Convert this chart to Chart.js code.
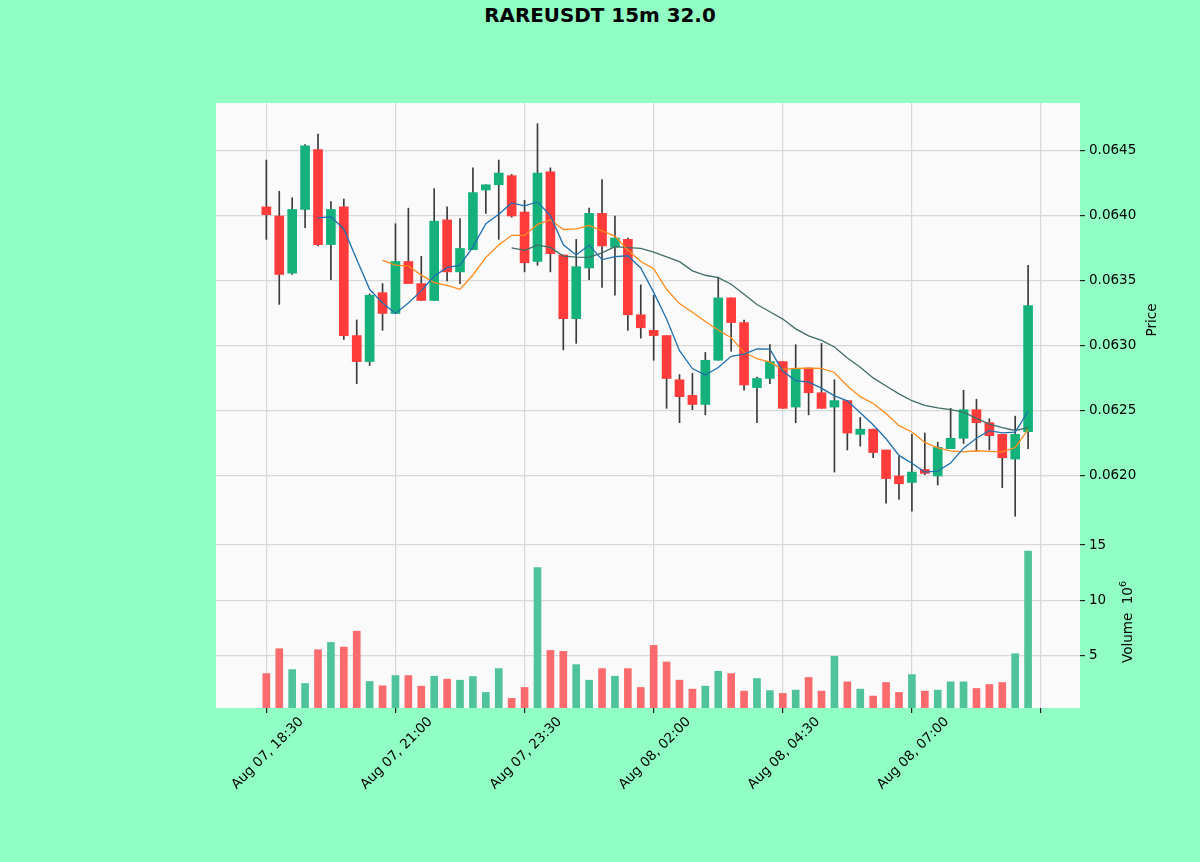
<!DOCTYPE html>
<html>
<head>
<meta charset="utf-8">
<title>RAREUSDT 15m</title>
<script src="https://cdn.jsdelivr.net/npm/chart.js@4.4.1/dist/chart.umd.min.js"></script>
<style>
    html, body { margin: 0; padding: 0; width: 1200px; height: 862px; overflow: hidden; background: #91ffc4; font-family: "DejaVu Sans", sans-serif; }
    canvas { position: absolute; left: 0; top: 0; }
    .title { position: absolute; left: 0; top: 6px; width: 1200px; text-align: center; font-weight: bold; font-size: 19.9px; line-height: 20px; color: #000; }
    .ylab { position: absolute; width: 120px; height: 16px; line-height: 16px; text-align: center; font-size: 13.5px; color: #000; transform: rotate(-90deg); white-space: nowrap; }
    .ylab sup { font-size: 9.5px; }
</style>
</head>
<body>
<div class="title">RAREUSDT 15m 32.0</div>
<canvas id="priceChart" width="1200" height="862"></canvas>
<canvas id="volumeChart" width="1200" height="862"></canvas>
<div class="ylab" style="left:1091px; top:312px;">Price</div>
<div class="ylab" style="left:1063px; top:614px;">Volume&nbsp; 10<sup>6</sup></div>
<script>
// candle data, one entry per 15m bar starting Aug 07 18:30
const opens = [
    0.06407, 0.06400, 0.06356, 0.06405, 0.06451, 0.06378, 0.06407, 0.06308, 0.06288, 0.06341,
    0.06325, 0.06365, 0.06348, 0.06335, 0.06397, 0.06357, 0.06374, 0.06420, 0.06424, 0.06431,
    0.06403, 0.06365, 0.06434, 0.06370, 0.06321, 0.06360, 0.06402, 0.06376, 0.06382, 0.06324,
    0.06312, 0.06308, 0.06274, 0.06262, 0.06255, 0.06289, 0.06337, 0.06318, 0.06268, 0.06275,
    0.06288, 0.06253, 0.06283, 0.06264, 0.06253, 0.06258, 0.06232, 0.06236, 0.06220, 0.06200,
    0.06195, 0.06205, 0.06200, 0.06221, 0.06229, 0.06251, 0.06241, 0.06232, 0.06213, 0.06234
];
const highs = [
    0.06443, 0.06419, 0.06414, 0.06455, 0.06463, 0.06411, 0.06413, 0.06320, 0.06340, 0.06348,
    0.06394, 0.06406, 0.06369, 0.06421, 0.06407, 0.06398, 0.06437, 0.06424, 0.06443, 0.06432,
    0.06412, 0.06471, 0.06437, 0.06370, 0.06382, 0.06406, 0.06428, 0.06400, 0.06383, 0.06347,
    0.06339, 0.06308, 0.06278, 0.06279, 0.06295, 0.06353, 0.06337, 0.06320, 0.06276, 0.06301,
    0.06288, 0.06301, 0.06283, 0.06302, 0.06274, 0.06258, 0.06245, 0.06236, 0.06220, 0.06215,
    0.06232, 0.06233, 0.06226, 0.06252, 0.06266, 0.06259, 0.06244, 0.06232, 0.06246, 0.06362
];
const lows = [
    0.06382, 0.06332, 0.06355, 0.06391, 0.06377, 0.06351, 0.06305, 0.06271, 0.06285, 0.06312,
    0.06325, 0.06348, 0.06335, 0.06335, 0.06350, 0.06348, 0.06374, 0.06402, 0.06382, 0.06399,
    0.06357, 0.06362, 0.06357, 0.06297, 0.06302, 0.06351, 0.06345, 0.06339, 0.06312, 0.06306,
    0.06289, 0.06252, 0.06241, 0.06251, 0.06247, 0.06289, 0.06296, 0.06266, 0.06241, 0.06271,
    0.06252, 0.06241, 0.06247, 0.06252, 0.06203, 0.06220, 0.06223, 0.06214, 0.06179, 0.06182,
    0.06173, 0.06201, 0.06193, 0.06221, 0.06225, 0.06219, 0.06220, 0.06191, 0.06169, 0.06221
];
const closes = [
    0.06401, 0.06355, 0.06405, 0.06454, 0.06378, 0.06405, 0.06308, 0.06288, 0.06339, 0.06325,
    0.06365, 0.06348, 0.06335, 0.06396, 0.06357, 0.06375, 0.06418, 0.06424, 0.06433, 0.06400,
    0.06364, 0.06433, 0.06371, 0.06321, 0.06361, 0.06402, 0.06377, 0.06383, 0.06324, 0.06314,
    0.06308, 0.06275, 0.06261, 0.06255, 0.06289, 0.06337, 0.06318, 0.06270, 0.06275, 0.06288,
    0.06252, 0.06282, 0.06264, 0.06252, 0.06258, 0.06233, 0.06236, 0.06218, 0.06198, 0.06194,
    0.06203, 0.06202, 0.06222, 0.06229, 0.06251, 0.06241, 0.06231, 0.06214, 0.06232, 0.06331
];
// volume in millions
const volumes = [
    3.35, 5.60, 3.71, 2.45, 5.51, 6.17, 5.75, 7.19, 2.63, 2.24,
    3.17, 3.17, 2.21, 3.11, 2.84, 2.75, 3.08, 1.64, 3.80, 1.10,
    2.09, 12.96, 5.45, 5.36, 4.16, 2.75, 3.80, 3.11, 3.80, 2.09,
    5.90, 4.40, 2.75, 1.94, 2.21, 3.56, 3.35, 1.76, 2.90, 1.80,
    1.55, 1.85, 3.00, 1.76, 4.91, 2.60, 1.94, 1.31, 2.54, 1.64,
    3.26, 1.76, 1.85, 2.60, 2.60, 2.00, 2.36, 2.54, 5.15, 14.46
];

const xTicks = [0, 10, 20, 30, 40, 50, 60];
const xTickLabels = ['Aug 07, 18:30', 'Aug 07, 21:00', 'Aug 07, 23:30', 'Aug 08, 02:00', 'Aug 08, 04:30', 'Aug 08, 07:00', ''];
const priceTicks = [0.0620, 0.0625, 0.0630, 0.0635, 0.0640, 0.0645];
const volumeTicks = [5, 10, 15];
const maPeriods = [5, 10, 20];
const maColors = ['#1f6fae', '#ff8a1c', '#3f6d68'];

const UP = '#14b27a';
const DOWN = '#ff3b3b';
const UP_VOL = '#4fc39a';
const DOWN_VOL = '#fb6a6c';
const GRID = '#d8d8d8';

const X_MIN = -3.9, X_MAX = 63.02;

// simple moving average of the closes, like mplfinance's mav
function sma(values, n) {
    return values.map((v, i) => {
        if (i < n - 1) return null;
        let s = 0;
        for (let k = i - n + 1; k <= i; k++) s += values[k];
        return s / n;
    });
}

const isUp = closes.map((c, i) => c >= opens[i]);

const plotBg = {
    id: 'plotBg',
    beforeDraw(chart) {
        const { ctx, chartArea: a } = chart;
        ctx.save();
        ctx.fillStyle = '#fafafa';
        ctx.fillRect(a.left, a.top, a.right - a.left, a.bottom - a.top);
        ctx.restore();
    }
};

const tickFont = { family: '"DejaVu Sans", sans-serif', size: 13.5 };

function xScale(showLabels) {
    return {
        type: 'linear',
        min: X_MIN,
        max: X_MAX,
        offset: false,
        afterBuildTicks: s => { s.ticks = xTicks.map(v => ({ value: v })); },
        afterFit: s => { s.height = showLabels ? 100 : 0; },
        border: { display: false },
        grid: { color: GRID, lineWidth: 1.2, offset: false, drawTicks: showLabels, tickLength: 5, tickColor: '#222' },
        ticks: {
            display: showLabels,
            autoSkip: false,
            maxRotation: 45,
            minRotation: 45,
            labelOffset: 35,
            padding: 1,
            color: '#000',
            font: tickFont,
            callback: v => xTickLabels[xTicks.indexOf(v)] ?? ''
        }
    };
}

// Price panel
const ohlcIdx = opens.map((_, i) => i);
const priceDatasets = [];
maPeriods.forEach((n, k) => {
    const ma = sma(closes, n);
    priceDatasets.push({
        type: 'line',
        label: 'MA' + n,
        data: ohlcIdx.map(i => ({ x: i, y: ma[i] })),
        borderColor: maColors[k],
        borderWidth: 1.3,
        pointRadius: 0,
        tension: 0,
        spanGaps: false,
        order: 0
    });
});
priceDatasets.push({
    type: 'bar',
    label: 'body',
    data: ohlcIdx.map(i => ({ x: i, y: [opens[i], closes[i]] })),
    backgroundColor: isUp.map(u => u ? UP : DOWN),
    barThickness: 9,
    minBarLength: 1,
    grouped: false,
    order: 1
});
priceDatasets.push({
    type: 'bar',
    label: 'wick',
    data: ohlcIdx.map(i => ({ x: i, y: [lows[i], highs[i]] })),
    backgroundColor: '#3a3a3a',
    barThickness: 1,
    grouped: false,
    order: 2
});

new Chart(document.getElementById('priceChart'), {
    type: 'bar',
    data: { datasets: priceDatasets },
    plugins: [plotBg],
    options: {
        responsive: false,
        animation: false,
        layout: { padding: { left: 216, top: 103, right: 0, bottom: 317 } },
        plugins: { legend: { display: false }, tooltip: { enabled: false }, title: { display: false } },
        scales: {
            x: xScale(false),
            y: {
                position: 'right',
                min: 0.061469,
                max: 0.064869,
                afterBuildTicks: s => { s.ticks = priceTicks.map(v => ({ value: v })); },
                afterFit: s => { s.width = 120; },
                border: { display: false },
                grid: { color: GRID, lineWidth: 1.2, tickLength: 5, tickColor: '#222' },
                ticks: { color: '#000', font: tickFont, padding: 4, callback: v => v.toFixed(4) }
            }
        }
    }
});

// Volume panel
new Chart(document.getElementById('volumeChart'), {
    type: 'bar',
    data: {
        datasets: [{
            label: 'Volume',
            data: volumes.map((v, i) => ({ x: i, y: v })),
            backgroundColor: isUp.map(u => u ? UP_VOL : DOWN_VOL),
            barThickness: 7,
            grouped: false
        }]
    },
    plugins: [plotBg],
    options: {
        responsive: false,
        animation: false,
        layout: { padding: { left: 216, top: 545, right: 0, bottom: 54 } },
        plugins: { legend: { display: false }, tooltip: { enabled: false } },
        scales: {
            x: xScale(true),
            y: {
                position: 'right',
                min: 0.23,
                max: 15,
                afterBuildTicks: s => { s.ticks = volumeTicks.map(v => ({ value: v })); },
                afterFit: s => { s.width = 120; },
                border: { display: false },
                grid: { color: GRID, lineWidth: 1.2, tickLength: 5, tickColor: '#222' },
                ticks: { color: '#000', font: tickFont, padding: 4, callback: v => String(v) }
            }
        }
    }
});
</script>
</body>
</html>
